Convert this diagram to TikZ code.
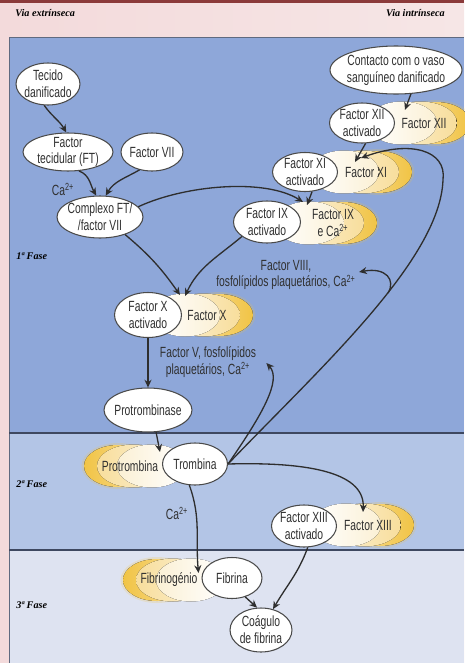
\documentclass[tikz,border=0pt]{standalone}
\usepackage{fontspec}
\setmainfont{Liberation Sans}[FakeStretch=0.70]
\newfontfamily\hdrfont{Liberation Serif}
\usetikzlibrary{shapes.geometric,arrows.meta,calc}

\definecolor{pinkL}{HTML}{F3DADB}
\definecolor{pinkR}{HTML}{F6E6E6}
\definecolor{redtop}{HTML}{8B3A3A}
\definecolor{panelblue}{HTML}{8EA7D9}
\definecolor{bandtwo}{HTML}{B3C5E6}
\definecolor{bandthree}{HTML}{DEE3F1}
\definecolor{framegray}{HTML}{5F6A80}
\definecolor{divgray}{HTML}{3E4860}
\definecolor{ovalline}{HTML}{4A4A4A}
\definecolor{txtgray}{HTML}{303030}
\definecolor{arrowgray}{HTML}{2E2E2E}
\definecolor{ylwA}{HTML}{FBF0D4}
\definecolor{ylwB}{HTML}{F8DE9C}
\definecolor{ylwC}{HTML}{F1C445}

\tikzset{
  oval/.style={ellipse, draw=ovalline, line width=0.6pt, fill=white, inner xsep=-2pt, inner ysep=-1.5pt, align=center, text=txtgray},
  cloudtext/.style={align=center, inner sep=0pt, text=txtgray},
  note/.style={align=center, inner sep=0pt, text=txtgray},
  arr/.style={draw=arrowgray, line width=0.75pt, -{Stealth[length=4.4pt,width=4pt]}},
  fase/.style={inner sep=0pt, text=black, font=\hdrfont\bfseries\itshape\fontsize{5.8}{7}\selectfont},
}

% yellow clouds behind the inactive factors
\newcommand{\blobright}[2]{%
  \fill[ylwC, opacity=0.2] (#1+12,#2) ellipse [x radius=0.73cm, y radius=0.46cm];
  \fill[left color=ylwB, right color=ylwC] (#1+12,#2) ellipse [x radius=0.68cm, y radius=0.42cm];
  \fill[left color=ylwA, right color=ylwB] (#1-4,#2) ellipse [x radius=0.74cm, y radius=0.43cm];
  \fill[left color=white, right color=ylwA] (#1-22,#2) ellipse [x radius=0.70cm, y radius=0.43cm];
}
\newcommand{\blobleft}[2]{%
  \fill[ylwC, opacity=0.2] (#1-12,#2) ellipse [x radius=0.73cm, y radius=0.46cm];
  \fill[left color=ylwC, right color=ylwB] (#1-12,#2) ellipse [x radius=0.68cm, y radius=0.42cm];
  \fill[left color=ylwB, right color=ylwA] (#1+4,#2) ellipse [x radius=0.74cm, y radius=0.43cm];
  \fill[left color=ylwA, right color=white] (#1+22,#2) ellipse [x radius=0.70cm, y radius=0.43cm];
}

\begin{document}
\begin{tikzpicture}[x=0.02cm, y=-0.02cm, font=\fontsize{8.4}{9.6}\selectfont]
    \useasboundingbox (0,0) rectangle (464,663);
    % page and phase bands
    \fill[left color=pinkL, right color=pinkR] (0,0) rectangle (464,663);
    \fill[redtop] (0,0) rectangle (464,3);
    \fill[panelblue] (9,37) rectangle (464,433);
    \fill[bandtwo] (9,433) rectangle (464,550);
    \fill[bandthree] (9,550) rectangle (464,663);
    \draw[framegray, line width=0.5pt] (464,37) -- (9,37) -- (9,663);
    \draw[divgray, line width=0.7pt] (9,433) -- (464,433);
    \draw[divgray, line width=0.7pt] (9,550) -- (464,550);

    \node[fase, anchor=west] (extr) at (15,13) {Via extrínseca};
    \node[fase, anchor=east] (intr) at (445,13) {Via intrínseca};
    \node[fase, anchor=west] (fase1) at (16,256) {1ª Fase};
    \node[fase, anchor=west] (fase2) at (16,484) {2ª Fase};
    \node[fase, anchor=west] (fase3) at (16,605) {3ª Fase};

    \blobright{424}{123}
    \blobright{366}{172}
    \blobright{331}{223}
    \blobright{207}{315}
    \blobright{368}{525}
    \blobleft{130}{466}
    \blobleft{169}{580}

    % extrinsic side
    \node[oval, minimum width=1.28cm, minimum height=0.84cm] (tecido) at (48,84) {Tecido\\danificado};
    \node[oval, minimum width=1.8cm, minimum height=0.76cm] (ft) at (68,152) {Factor\\tecidular (FT)};
    \node[oval, minimum width=1.24cm, minimum height=0.76cm] (fvii) at (152,152) {Factor VII};
    \node[oval, minimum width=1.72cm, minimum height=0.84cm] (complexo) at (100,217) {Complexo FT/\\/factor VII};
    \node[note] (ca1) at (63,189) {Ca\textsuperscript{2+}};

    % intrinsic side
    \node[oval, minimum width=2.64cm, minimum height=0.96cm] (contacto) at (396,70) {Contacto com o vaso\\sanguíneo danificado};
    \node[oval, minimum width=1.3cm, minimum height=0.8cm] (fxiia) at (362,123) {Factor XII\\activado};
    \node[cloudtext] (fxii) at (424,123) {Factor XII};
    \node[oval, minimum width=1.3cm, minimum height=0.78cm] (fxia) at (305,172) {Factor XI\\activado};
    \node[cloudtext] (fxi) at (366,172) {Factor XI};
    \node[oval, minimum width=1.34cm, minimum height=0.84cm] (fixa) at (267,222) {Factor IX\\activado};
    \node[cloudtext] (fix) at (333,223) {Factor IX\\e Ca\textsuperscript{2+}};
    \node[note] (fviii) at (286,275) {Factor VIII,\\fosfolípidos plaquetários, Ca\textsuperscript{2+}};

    % common pathway
    \node[oval, minimum width=1.34cm, minimum height=0.9cm] (fxa) at (148,315) {Factor X\\activado};
    \node[cloudtext] (fx) at (207,315) {Factor X};
    \node[note] (fv) at (208,362) {Factor V, fosfolípidos\\plaquetários, Ca\textsuperscript{2+}};
    \node[oval, minimum width=1.76cm, minimum height=0.88cm] (protrombinase) at (148,410) {Protrombinase};
    \node[oval, minimum width=1.3cm, minimum height=0.84cm] (trombina) at (195,464) {Trombina};
    \node[cloudtext] (protrombina) at (130,466) {Protrombina};
    \node[note] (ca2) at (177,513) {Ca\textsuperscript{2+}};
    \node[oval, minimum width=1.3cm, minimum height=0.84cm] (fxiiia) at (304,526) {Factor XIII\\activado};
    \node[cloudtext] (fxiii) at (368,525) {Factor XIII};
    \node[cloudtext] (fibrinogenio) at (169,580) {Fibrinogénio};
    \node[oval, minimum width=1.2cm, minimum height=0.82cm] (fibrina) at (232,578) {Fibrina};
    \node[oval, minimum width=1.24cm, minimum height=0.88cm] (coagulo) at (261,630) {Coágulo\\de fibrina};

    % arrows
    \draw[arr] (tecido.-100) to[out=-55,in=120] (ft.95);
    \draw[arr] (ft.-60) to[out=-20,in=120] (complexo.100);
    \draw[arr] (fvii.-125) to[out=-150,in=60] (complexo.75);
    \draw[arr] (complexo.15) .. controls (185,185) and (265,178) .. ($(fix)+(-30,-21)$);
    \draw[arr] (complexo.-35) to[out=-40,in=125] ($(fx)+(-27,-20)$);
    \draw[arr] (fixa.-150) to[out=-140,in=65] ($(fx)+(-22,-19)$);
    \draw[arr] (contacto.-58) -- ($(fxii)+(-19,-13)$);
    \draw[arr] (fxiia.-80) -- ($(fxi)+(-11,-10)$);
    \draw[arr] (fxia.-70) -- ($(fix)+(-26,-18)$);
    \draw[arr] (fxa.south) -- (protrombinase.north);
    \draw[arr] (protrombinase.-70) -- ($(protrombina)+(30,-14)$);
    \draw[arr] (trombina.east) .. controls (262,415) and (282,380) .. ($(fv.east)+(10,1)$);
    \draw[arr] (trombina.east) .. controls (320,368) and (440,260) .. (443,180)
        .. controls (447,150) and (410,140) .. ($(fxi)+(-5,-14)$);
    \coordinate (split) at (388,293);
    \draw[arr] (split) .. controls (396,280) and (386,267) .. ($(fviii.east)+(3,-3)$);
    \draw[arr] (trombina.east) .. controls (300,462) and (365,470) .. ($(fxiii)+(-5,-13)$);
    \draw[arr] (trombina.-105) to[out=-70,in=95] ($(fibrina.west)+(-3,-5)$);
    \draw[arr] (fxiiia.-80) to[out=-110,in=60] (coagulo.60);
    \draw[arr] (fibrina.-55) -- (coagulo.100);
\end{tikzpicture}
\end{document}
